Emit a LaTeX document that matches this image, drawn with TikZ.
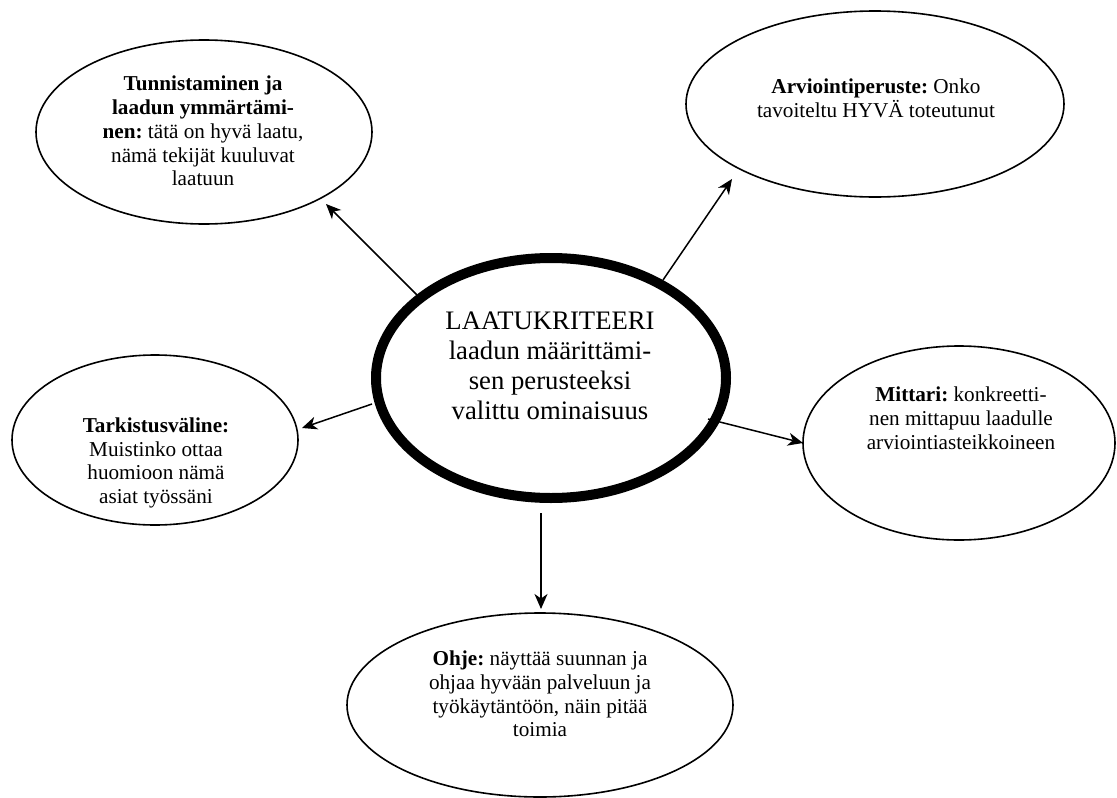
\documentclass[tikz,border=0pt]{standalone}
\usepackage{fontspec}
\setmainfont{Liberation Serif}
\usetikzlibrary{shapes.geometric,arrows.meta}
\frenchspacing
\begin{document}
\begin{tikzpicture}[x=1pt,y=-1pt,
  ell/.style={ellipse, draw, line width=1.6pt, inner sep=0pt},
  bigell/.style={ellipse, draw, line width=10pt, inner sep=0pt},
  txt/.style={align=center, font=\fontsize{21.2}{23.8}\selectfont, inner sep=0pt},
  bigtxt/.style={align=center, font=\fontsize{26.7}{30}\selectfont, inner sep=0pt},
  arr/.style={-{Stealth[length=15pt,width=13pt,inset=4.5pt]}, line width=1.5pt}]
\useasboundingbox (0,0) rectangle (1117,798);
% ellipses
\node[ell, minimum width=336pt, minimum height=184pt] (tl) at (204,132) {};
\node[ell, minimum width=378pt, minimum height=186pt] (tr) at (875,104) {};
\node[bigell, minimum width=350pt, minimum height=240pt] (c) at (551,378) {};
\node[ell, minimum width=286pt, minimum height=170pt] (l) at (155,440) {};
\node[ell, minimum width=312pt, minimum height=194pt] (r) at (959,443) {};
\node[ell, minimum width=386pt, minimum height=184pt] (b) at (540,705) {};
% texts
\node[txt] (tltxt) at (203,131) {\textbf{Tunnistaminen ja}\\\textbf{laadun ymmärtämi-}\\\textbf{nen:} tätä on hyvä laatu,\\nämä tekijät kuuluvat\\laatuun};
\node[txt] (trtxt) at (876,98) {\textbf{Arviointiperuste:} Onko\\tavoiteltu HYVÄ toteutunut};
\node[bigtxt] (ctxt) at (550,366) {LAATUKRITEERI\\laadun määrittämi-\\sen perusteeksi\\valittu ominaisuus};
\node[txt] (ltxt) at (156,463) {\textbf{Tarkistusväline:}\\Muistinko ottaa\\huomioon nämä\\asiat työssäni};
\node[txt] (rtxt) at (961,418) {\textbf{Mittari:} konkreetti-\\nen mittapuu laadulle\\arviointiasteikkoineen};
\node[txt] (btxt) at (540,694) {\textbf{Ohje:} näyttää suunnan ja\\ohjaa hyvään palveluun ja\\työkäytäntöön, näin pitää\\toimia};
% arrow end points
\coordinate (s1) at (417,295); \coordinate (e1) at (326,204);
\coordinate (s2) at (663,280); \coordinate (e2) at (732,179);
\coordinate (s3) at (372,404); \coordinate (e3) at (302,428);
\coordinate (s4) at (708,419); \coordinate (e4) at (803,443);
\coordinate (s5) at (541,513); \coordinate (e5) at (541,609);
\draw[arr] (s1) -- (e1);
\draw[arr] (s2) -- (e2);
\draw[arr] (s3) -- (e3);
\draw[arr] (s4) -- (e4);
\draw[arr] (s5) -- (e5);
\end{tikzpicture}
\end{document}
